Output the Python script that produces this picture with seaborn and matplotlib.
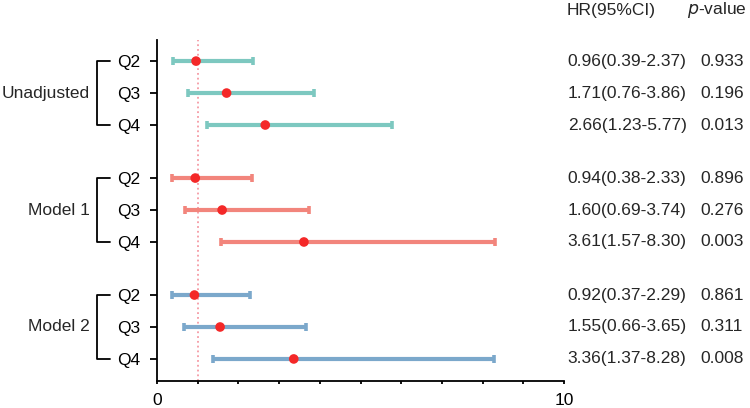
import numpy as np
import pandas as pd
import matplotlib
matplotlib.use("Agg")
import matplotlib.pyplot as plt
import seaborn as sns

# data
groups = ["Unadjusted", "Model 1", "Model 2"]
quartiles = ["Q2", "Q3", "Q4"]
hr = [0.96, 1.71, 2.66, 0.94, 1.60, 3.61, 0.92, 1.55, 3.36]
ci_low = [0.39, 0.76, 1.23, 0.38, 0.69, 1.57, 0.37, 0.66, 1.37]
ci_high = [2.37, 3.86, 5.77, 2.33, 3.74, 8.30, 2.29, 3.65, 8.28]
p_values = ["0.933", "0.196", "0.013", "0.896", "0.276", "0.003", "0.861", "0.311", "0.008"]
group_colors = ["#7DC8C0", "#F2857C", "#7BA8CB"]

gap = 0.66  # extra space between groups
rows = []
for g, name in enumerate(groups):
    for i, q in enumerate(quartiles):
        k = g * 3 + i
        rows.append({"group": name, "q": q, "pos": g * (3 + gap) + i,
                     "hr": hr[k], "lo": ci_low[k], "hi": ci_high[k], "p": p_values[k]})
df = pd.DataFrame(rows)

sns.set_style("ticks")
plt.rcParams["font.family"] = ["Liberation Sans", "DejaVu Sans"]
fs = 12.5

fig = plt.figure(figsize=(7.5, 4.08), dpi=100)
ax = fig.add_axes([157 / 750, 1 - 381 / 408, 407 / 750, 341 / 408])

ax.axvline(1, color="#F59AA4", ls=":", lw=1.3, zorder=1)

for g, name in enumerate(groups):
    sub = df[df["group"] == name]
    ax.errorbar(sub["hr"], sub["pos"], xerr=[sub["hr"] - sub["lo"], sub["hi"] - sub["hr"]],
                fmt="none", ecolor=group_colors[g], elinewidth=3, capsize=2.8, capthick=2.6, zorder=2)

sns.scatterplot(data=df, x="hr", y="pos", color="#F42828", s=48, edgecolor="none",
                zorder=3, ax=ax, legend=False)

last = df["pos"].max()
ax.set_ylim(last + 0.69, -0.66)
ax.set_xlim(0, 10)
ax.set_xticks(np.arange(0, 11, 1))
ax.set_xticklabels(["0"] + [""] * 9 + ["10"], fontsize=fs)
ax.set_yticks(df["pos"])
ax.set_yticklabels(df["q"], fontsize=fs)
ax.set_xlabel("")
ax.set_ylabel("")
sns.despine(ax=ax)
for s in ["left", "bottom"]:
    ax.spines[s].set_linewidth(1.3)
    ax.spines[s].set_color("black")
ax.tick_params(axis="y", length=5, width=1.3, pad=7, colors="black")
ax.tick_params(axis="x", length=2.5, width=1.3, pad=6, colors="black")

# brackets and group names on the left
for g, name in enumerate(groups):
    sub = df[df["group"] == name]
    y0, y1 = sub["pos"].min(), sub["pos"].max()
    ax.plot([-1.155, -1.474, -1.474, -1.155], [y0, y0, y1, y1], color="black", lw=1.3,
            clip_on=False)
    ax.text(-1.65, (y0 + y1) / 2, name, ha="right", va="center", fontsize=fs)

# HR and p-value columns
for _, r in df.iterrows():
    ax.text(11.55, r["pos"], f"{r['hr']:.2f}({r['lo']:.2f}-{r['hi']:.2f})",
            ha="center", va="center", fontsize=fs, clip_on=False)
    ax.text(13.88, r["pos"], r["p"], ha="center", va="center", fontsize=fs, clip_on=False)

fig.text(611 / 750, 1 - 10 / 408, "HR(95%CI)", ha="center", va="center", fontsize=fs)
fig.text(717 / 750, 1 - 10 / 408, "$\\it{p}$-value", ha="center", va="center", fontsize=fs)

fig.savefig("out.png", dpi=100)
